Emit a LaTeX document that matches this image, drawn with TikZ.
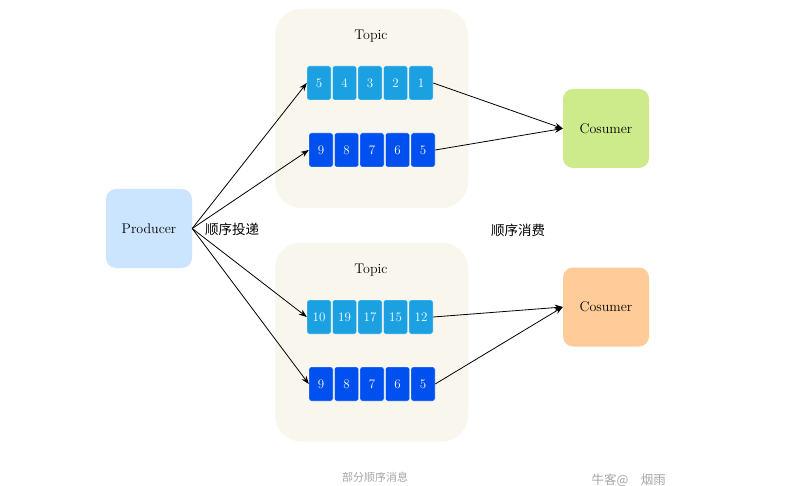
\documentclass[tikz,border=0pt]{standalone}
\usepackage{fontspec}
\newfontfamily\cjk{Noto Sans CJK SC}
\usetikzlibrary{arrows.meta}
\definecolor{topicbg}{HTML}{F9F7ED}
\definecolor{prodc}{HTML}{CCE5FF}
\definecolor{greenc}{HTML}{CDEB8B}
\definecolor{orangec}{HTML}{FFCC99}
\definecolor{lblue}{HTML}{1BA1E2}
\definecolor{dblue}{HTML}{0050EF}
\tikzset{
  topicbox/.style={fill=topicbg, draw=none, rounded corners=26pt, minimum width=193pt, minimum height=199pt, inner sep=0pt},
  rolebox/.style={draw=none, rounded corners=10pt, minimum width=86pt, minimum height=79pt, inner sep=0pt, font=\fontsize{14}{16}\selectfont},
  cell/.style={draw=white, line width=0.4pt, rounded corners=2pt, minimum width=24pt, minimum height=34pt, inner sep=0pt, text=white, font=\fontsize{13}{14}\selectfont},
  lcell/.style={cell, fill=lblue},
  dcell/.style={cell, fill=dblue},
  conn/.style={line width=0.8pt, -{Stealth[length=8pt,width=6pt]}},
  lbl/.style={font=\fontsize{14}{16}\selectfont},
  cjklbl/.style={font=\cjk\fontsize{13.5}{15}\selectfont},
  wm/.style={font=\cjk\fontsize{12.5}{14}\selectfont, text=black!35}
}
\begin{document}
\begin{tikzpicture}[x=1pt,y=-1pt]
\useasboundingbox (0,0) rectangle (786,486);
\clip (0,0) rectangle (786,486);
\fill[white] (0,0) rectangle (786,486);
% topic backgrounds
\node[topicbox] (topA) at (371.5,108.5) {};
\node[topicbox] (topB) at (371.5,342) {};
\node[lbl] (tA) at (371,36) {Topic};
\node[lbl] (tB) at (371,270) {Topic};
% roles
\node[rolebox, fill=prodc] (prod) at (149,228.5) {Producer};
\node[rolebox, fill=greenc] (c1) at (606,128.5) {Cosumer};
\node[rolebox, fill=orangec] (c2) at (606,307) {Cosumer};
% top topic rows
\node[lcell] (a1) at (319,83) {5};
\node[lcell] (a2) at (344.5,83) {4};
\node[lcell] (a3) at (370,83) {3};
\node[lcell] (a4) at (395.5,83) {2};
\node[lcell] (a5) at (421,83) {1};
\node[dcell] (b1) at (321,150) {9};
\node[dcell] (b2) at (346.5,150) {8};
\node[dcell] (b3) at (372,150) {7};
\node[dcell] (b4) at (397.5,150) {6};
\node[dcell] (b5) at (423,150) {5};
% bottom topic rows
\node[lcell] (c1a) at (319,317) {10};
\node[lcell] (c2a) at (344.5,317) {19};
\node[lcell] (c3a) at (370,317) {17};
\node[lcell] (c4a) at (395.5,317) {15};
\node[lcell] (c5a) at (421,317) {12};
\node[dcell] (d1) at (321,384) {9};
\node[dcell] (d2) at (346.5,384) {8};
\node[dcell] (d3) at (372,384) {7};
\node[dcell] (d4) at (397.5,384) {6};
\node[dcell] (d5) at (423,384) {5};
% connectors
\draw[conn] (prod.east) -- (a1.west);
\draw[conn] (prod.east) -- (b1.west);
\draw[conn] (prod.east) -- (c1a.west);
\draw[conn] (prod.east) -- (d1.west);
\draw[conn] (a5.east) -- (c1.west);
\draw[conn] (b5.east) -- (c1.west);
\draw[conn] (c5a.east) -- (c2.west);
\draw[conn] (d5.east) -- (c2.west);
% labels
\node[cjklbl] (l1) at (232,229) {顺序投递};
\node[cjklbl] (l2) at (518,230) {顺序消费};
\node[wm, font=\cjk\fontsize{11}{12}\selectfont] (cap) at (375,477) {部分顺序消息};
\node[wm, anchor=west] (wmk) at (588,480) {牛客@\quad 烟雨};
\end{tikzpicture}
\end{document}
